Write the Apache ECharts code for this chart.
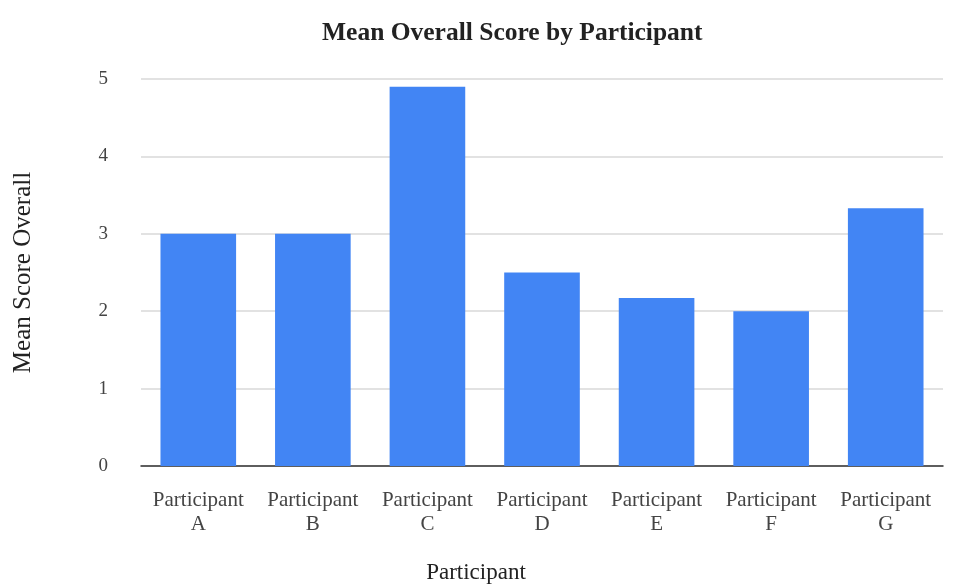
<!DOCTYPE html>
<html>
<head>
<meta charset="utf-8">
<style>
  html, body { margin: 0; padding: 0; background: #fff; }
  #chart { width: 955px; height: 586px; }
</style>
<script src="https://cdn.jsdelivr.net/npm/echarts@6/dist/echarts.min.js"></script>
</head>
<body>
<div id="chart"></div>
<script>
// Mean overall score for each participant
const participants = ['Participant\nA', 'Participant\nB', 'Participant\nC', 'Participant\nD',
                      'Participant\nE', 'Participant\nF', 'Participant\nG'];
const meanScores = [3.0, 3.0, 4.9, 2.5, 2.17, 2.0, 3.33];
const yTicks = [0, 1, 2, 3, 4, 5];

const serif = "'Liberation Serif', 'Times New Roman', serif";

const chart = echarts.init(document.getElementById('chart'), null, { renderer: 'canvas' });
chart.setOption({
  animation: false,
  backgroundColor: '#ffffff',
  title: {
    text: 'Mean Overall Score by Participant',
    left: 317,
    top: 15,
    textStyle: { fontFamily: serif, fontWeight: 'bold', fontSize: 25.5, color: '#222' }
  },
  grid: { left: 141, right: 12, top: 79, bottom: 120, outerBoundsMode: 'none', containLabel: false },
  xAxis: {
    type: 'category',
    data: participants,
    name: 'Participant',
    nameLocation: 'middle',
    nameGap: 95,
    // shift the axis title left so it sits under the page centre
    nameTextStyle: { fontFamily: serif, fontSize: 23, color: '#222', padding: [0, 132, 0, 0] },
    axisLine: { lineStyle: { color: '#333', width: 1.5 } },
    axisTick: { show: false },
    axisLabel: { interval: 0, fontFamily: serif, fontSize: 21, color: '#444', lineHeight: 24, margin: 22 }
  },
  yAxis: {
    type: 'value',
    min: yTicks[0],
    max: yTicks[yTicks.length - 1],
    interval: 1,
    name: 'Mean Score Overall',
    nameLocation: 'middle',
    nameGap: 105,
    nameTextStyle: { fontFamily: serif, fontSize: 25, color: '#222' },
    axisLine: { show: false },
    axisTick: { show: false },
    axisLabel: { fontFamily: serif, fontSize: 19, color: '#444', margin: 33 },
    splitLine: { lineStyle: { color: '#d9d9d9', width: 1.5 } }
  },
  series: [{
    type: 'bar',
    data: meanScores,
    barWidth: '66%',
    itemStyle: { color: '#4285F4' }
  }]
});
</script>
</body>
</html>
